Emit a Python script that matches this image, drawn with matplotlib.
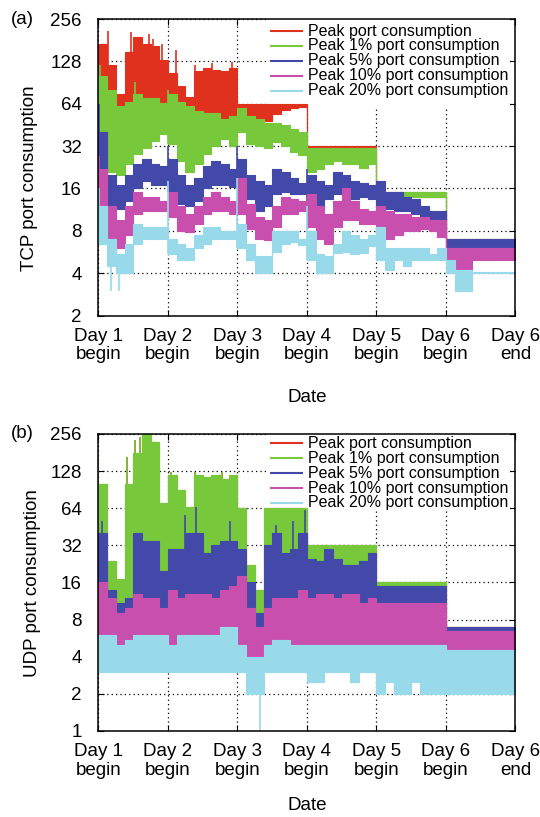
import numpy as np
import matplotlib
matplotlib.use("Agg")
import matplotlib.pyplot as plt
from matplotlib.patches import Rectangle

plt.rcParams['font.family'] = ['Liberation Sans', 'DejaVu Sans']


# -----------------------------------------------------------
# Datos (valores en bloques de 3 horas)
# -----------------------------------------------------------

BINS_PER_DAY = 8

day_labels = ["Day 1\nbegin", "Day 2\nbegin", "Day 3\nbegin", "Day 4\nbegin",
              "Day 5\nbegin", "Day 6\nbegin", "Day 6\nend"]

series_names = ["Peak port consumption", "Peak 1% port consumption",
                "Peak 5% port consumption", "Peak 10% port consumption",
                "Peak 20% port consumption"]

# --- TCP (a) ---
tcp_peak_hi = [170, 120, 75, 150, 190, 170, 165, 130,
               105, 85, 72, 110, 115, 112, 110, 115,
               64, 64, 64, 64, 64, 64, 64, 64,
               32, 32, 32, 32, 32, 32, 32, 32,
               15, 15, 15, 15, 15, 15, 15, 15,
               7, 7, 7, 7, 7, 7, 7, 7]
tcp_peak_lo = [70, 60, 56, 60, 63, 62, 62, 60,
               60, 57, 56, 55, 52, 52, 48, 50,
               52, 48, 48, 48, 54, 58, 60, 61,
               29, 29, 29, 29, 29, 29, 29, 29,
               14, 14, 14, 14, 14, 14, 14, 14,
               6.5, 6.5, 6.5, 6.5, 6.5, 6.5, 6.5, 6.5]
tcp_peak_spk_t = [0.02, 0.13, 0.47, 0.57, 0.72, 0.79, 0.91, 1.12, 1.39, 1.63, 1.92]
tcp_peak_spk_v = [166, 212, 207, 185, 201, 185, 170, 154, 120, 124, 127]

tcp_p1_hi = [100, 80, 62, 66, 75, 70, 70, 65,
             75, 66, 62, 57, 55, 55, 50, 52,
             60, 52, 50, 47, 47, 45, 42, 40,
             31, 31, 31, 31, 31, 31, 31, 31,
             15, 15, 15, 15, 15, 15, 15, 15,
             7, 7, 7, 7, 7, 7, 7, 7]
tcp_p1_lo = [35, 21, 20, 24, 28, 31, 35, 39,
             33, 25, 21, 24, 28, 32, 36, 32,
             40, 33, 32, 31, 34, 32, 29, 27.5,
             21, 22, 24, 25, 24, 24, 22.5, 24,
             14, 14, 14, 14, 14, 14, 14, 14,
             6.5, 6.5, 6.5, 6.5, 6.5, 6.5, 6.5, 6.5]
tcp_p1_spk_t = [0.02, 0.52, 1.0]
tcp_p1_spk_v = [120, 91, 80]

tcp_p5_hi = [40, 20, 17, 20, 24, 26, 24, 23,
             26, 20, 17, 19, 23, 25, 24, 22,
             26, 20, 18, 17, 22, 21, 19, 17.5,
             20, 18, 17, 21, 20, 18, 17.5, 17,
             18, 15, 15, 14, 13.5, 12, 11, 11,
             7, 7, 7, 7, 7, 7, 7, 7]
tcp_p5_lo = [17, 12, 11.5, 13, 16, 18, 17, 17,
             15, 12.5, 12, 13, 16, 17, 17, 16.5,
             16, 13.5, 11, 12, 14.5, 15, 14.5, 14.5,
             12, 11.5, 13.5, 14.5, 14, 13.5, 14, 13.5,
             11, 11.5, 11, 11, 10.5, 10, 9.5, 9,
             6, 5.2, 5.2, 6, 6, 6, 6, 6]
tcp_p5_spk_t = [0.01, 1.0, 2.0, 3.0]
tcp_p5_spk_v = [64, 32, 32, 22]

tcp_p10_hi = [22, 12, 9.5, 12, 15, 14, 14, 13,
              15, 12, 10.5, 12, 14, 15, 14, 13,
              19, 12.5, 10, 9.5, 12, 14, 13.5, 13,
              14.5, 12, 10.5, 13, 16, 13, 11.5, 11,
              12, 11, 10.5, 10.5, 10, 10, 9.5, 9.5,
              6, 6, 6, 6, 6, 6, 6, 6]
tcp_p10_lo = [12, 7, 6, 7.5, 10.5, 11, 11, 11,
              10, 8, 7.8, 9, 10.5, 11, 11, 10.5,
              10.5, 8.3, 7, 6.9, 8.5, 10.5, 10.5, 11,
              8.5, 7, 6.5, 8.5, 9.5, 9.5, 9, 9,
              8, 7, 7.5, 8, 8, 8.3, 8, 7.2,
              5, 4, 4, 5, 5, 5, 5, 5]
tcp_p10_spk_t = [0.01]
tcp_p10_spk_v = [27]

tcp_p20_hi = [12, 7, 5.5, 6.5, 9, 8.5, 8.5, 8.5,
              7, 6.5, 6, 7.5, 8.5, 8.5, 8, 8,
              9, 6.5, 5.3, 5.3, 8, 8, 8, 7,
              8, 5.5, 5.3, 6.5, 8, 7.5, 7, 7.5,
              8.5, 6, 6, 6, 6, 6, 5.5, 6,
              5, 4.2, 4.2, 4.1, 4.1, 4.1, 4.1, 4.1]
tcp_p20_lo = [6.5, 4.5, 4, 4, 6.5, 7, 7, 7,
              5.5, 5, 5, 6, 6.5, 7, 7, 7,
              6, 5, 4, 4, 5.7, 6.5, 6.7, 6.3,
              5, 4, 4, 5.6, 5.7, 5.5, 5.6, 6.2,
              5, 4.2, 5, 4.5, 5, 5, 5, 5,
              4, 3, 3, 4, 4, 4, 4, 4]
tcp_p20_spk_t = [0.01, 0.18, 0.30, 1.0, 2.0, 3.0]
tcp_p20_spk_v = [16, 3, 3, 18, 19, 12]

# --- UDP (b) ---
udp_p1_hi = [100, 24, 17, 100, 180, 256, 220, 70,
             120, 90, 65, 120, 115, 120, 110, 120,
             64, 22, 14, 64, 64, 64, 64, 64,
             32, 32, 32, 32, 32, 32, 32, 32,
             16, 16, 16, 16, 16, 16, 16, 16,
             7, 7, 7, 7, 7, 7, 7, 7]
udp_p1_lo = [8, 8, 8, 8, 8, 8, 8, 8,
             8, 8, 8, 8, 8, 8, 8, 8,
             8, 8, 7, 8, 8, 8, 8, 8,
             8, 8, 8, 8, 8, 8, 8, 8,
             8, 8, 8, 8, 8, 8, 8, 8,
             6, 6, 6, 6, 6, 6, 6, 6]
udp_p1_spk_t = [0.0, 0.12, 0.41, 0.52, 0.6, 1.05, 1.39, 1.77]
udp_p1_spk_v = [180, 75, 168, 228, 243, 125, 125, 125]

# el pico total queda casi siempre tapado por el 1%
udp_peak_hi = udp_p1_hi
udp_peak_lo = udp_p1_lo
udp_peak_spk_t = udp_p1_spk_t
udp_peak_spk_v = udp_p1_spk_v

udp_p5_hi = [40, 14, 11, 12, 40, 35, 35, 20,
             30, 30, 40, 40, 28, 32, 35, 35,
             30, 16, 9, 32, 40, 28, 30, 40,
             25, 24, 30, 25, 22, 22, 24, 28,
             15, 15, 15, 15, 15, 15, 15, 15,
             7, 7, 7, 7, 7, 7, 7, 7]
udp_p5_lo = [7, 7, 7, 7, 7, 7, 7, 7,
             7, 7, 7, 7, 7, 7, 7, 7,
             7, 7, 6, 7, 7, 7, 7, 7,
             7, 7, 7, 7, 7, 7, 7, 7,
             7, 7, 7, 7, 7, 7, 7, 7,
             5, 5, 5, 5, 5, 5, 5, 5]
udp_p5_spk_t = [0.05, 1.24, 1.4, 1.89, 2.55, 2.8, 2.97]
udp_p5_spk_v = [50, 56, 66, 50, 47, 50, 62]

udp_p10_hi = [16, 12, 9, 10, 13, 12, 12, 10,
              14, 12, 13, 13, 13, 12, 14, 15,
              18, 10, 7, 10, 12, 12, 12, 14,
              12, 13, 13, 12, 13, 13, 11, 12,
              11, 11, 11, 11, 11, 11, 11, 11,
              6.5, 6.5, 6.5, 6.5, 6.5, 6.5, 6.5, 6.5]
udp_p10_lo = [6, 6, 4.5, 5, 5, 6, 5.5, 6,
              5, 5.5, 5.5, 5.5, 5.5, 5.5, 5.5, 5.5,
              5, 3.7, 3.5, 4.3, 4.5, 5, 5, 5,
              5, 5, 5, 5, 5, 5, 5, 5,
              4.5, 4.5, 4.5, 4.5, 4.5, 4.5, 4.5, 4.5,
              3.5, 3.5, 3.5, 3.5, 3.5, 3.5, 3.5, 3.5]
udp_p10_spk_t = []
udp_p10_spk_v = []

udp_p20_hi = [6, 6, 5, 5.5, 6, 6, 6, 6,
              5, 6, 6, 6, 6, 6, 7, 7,
              5, 4, 4, 5, 5.5, 5.5, 5, 5,
              5, 5, 5, 5, 5, 5, 5, 5,
              5, 5, 5, 5, 5, 5, 5, 5,
              4.5, 4.5, 4.5, 4.5, 4.5, 4.5, 4.5, 4.5]
udp_p20_lo = [3, 3, 3, 3, 3, 3, 3, 3,
              3, 3, 3, 3, 3, 3, 3, 3,
              3, 2, 2, 3, 3, 3, 3, 3,
              2.5, 2.5, 3, 3, 3, 2.5, 3, 3,
              2, 2.5, 2, 2, 2.5, 2, 2, 2,
              2, 2, 2, 2, 2, 2, 2, 2]
udp_p20_spk_t = [2.33]
udp_p20_spk_v = [1]

colores = ["#e0301e", "#77c83a", "#4249a8", "#c94fae", "#98d9ea"]


# -----------------------------------------------------------
# Funciones de dibujo
# -----------------------------------------------------------

def banda(ax, lo, hi, spk_t, spk_v, color):
    t = np.arange(len(hi) + 1) / BINS_PER_DAY
    lo2 = np.append(lo, lo[-1])
    hi2 = np.append(hi, hi[-1])
    ax.fill_between(t, lo2, hi2, step="post", facecolor=color,
                    edgecolor=color, linewidth=0.8, zorder=1)
    # picos y caidas aisladas
    for ts, v in zip(spk_t, spk_v):
        k = min(int(ts * BINS_PER_DAY), len(lo) - 1)
        ax.vlines(ts, lo[k], v, color=color, linewidth=1.2, zorder=1)


def leyenda(ax, y0, dy, caja_y):
    # caja blanca detras de los datos (tapa la rejilla), como en gnuplot
    ax.add_patch(Rectangle((0.408, caja_y), 0.58, 1 - caja_y,
                           transform=ax.transAxes, facecolor="white",
                           edgecolor="none", zorder=0.8))
    filas = [y0 - i * dy for i in range(len(series_names))]
    for y, c in zip(filas, colores):
        ax.plot([0.411, 0.490], [y, y], transform=ax.transAxes, color=c,
                linewidth=1.5, zorder=3, solid_capstyle="butt")
    ax.text(0.503, np.mean(filas), "\n".join(series_names),
            transform=ax.transAxes, fontsize=11.5, linespacing=0.98,
            ha="left", va="center", zorder=3)


def panel(ax, series, ymin, ylabel):
    for s, c in zip(series, colores):
        banda(ax, *s, c)

    ax.set_yscale("log", base=2)
    ax.set_ylim(ymin, 256)
    yt = [2 ** i for i in range(int(np.log2(ymin)), 9)]
    ax.set_yticks(yt)
    ax.set_yticklabels([str(v) for v in yt])
    ax.minorticks_off()
    ax.set_xlim(0, 6)
    ax.set_xticks(range(7))
    ax.set_xticklabels(day_labels, linespacing=1.08)

    ax.set_axisbelow(True)
    ax.grid(True, color="black", linestyle=(0, (1, 2.5)), linewidth=0.9)
    ax.tick_params(direction="in", length=4, width=0.8, top=True, right=True,
                   labelsize=13.5)
    ax.tick_params(axis="y", pad=12)
    ax.tick_params(axis="x", pad=9)
    for s in ax.spines.values():
        s.set_linewidth(1.1)
        s.set_zorder(4)

    ax.set_xlabel("Date", fontsize=13.5, va="center")
    ax.set_ylabel(ylabel, fontsize=13.5, va="center")


fig = plt.figure(figsize=(5.4, 8.17), dpi=100)
ax1 = fig.add_axes([0.1824, 0.6138, 0.7722, 0.3629])
ax2 = fig.add_axes([0.1824, 0.1053, 0.7722, 0.3635])

panel(ax1, [(tcp_peak_lo, tcp_peak_hi, tcp_peak_spk_t, tcp_peak_spk_v),
            (tcp_p1_lo, tcp_p1_hi, tcp_p1_spk_t, tcp_p1_spk_v),
            (tcp_p5_lo, tcp_p5_hi, tcp_p5_spk_t, tcp_p5_spk_v),
            (tcp_p10_lo, tcp_p10_hi, tcp_p10_spk_t, tcp_p10_spk_v),
            (tcp_p20_lo, tcp_p20_hi, tcp_p20_spk_t, tcp_p20_spk_v)],
      2, "TCP port consumption")
leyenda(ax1, 0.9605, 0.0506, 0.703)
ax1.xaxis.set_label_coords(0.5, -0.275)
ax1.yaxis.set_label_coords(-0.166, 0.464)

panel(ax2, [(udp_peak_lo, udp_peak_hi, udp_peak_spk_t, udp_peak_spk_v),
            (udp_p1_lo, udp_p1_hi, udp_p1_spk_t, udp_p1_spk_v),
            (udp_p5_lo, udp_p5_hi, udp_p5_spk_t, udp_p5_spk_v),
            (udp_p10_lo, udp_p10_hi, udp_p10_spk_t, udp_p10_spk_v),
            (udp_p20_lo, udp_p20_hi, udp_p20_spk_t, udp_p20_spk_v)],
      1, "UDP port consumption")
leyenda(ax2, 0.9687, 0.0505, 0.741)
ax2.xaxis.set_label_coords(0.5, -0.2525)
ax2.yaxis.set_label_coords(-0.159, 0.497)

fig.text(22 / 540, 1 - 20 / 817, "(a)", fontsize=13.5, ha="center", va="center")
fig.text(22 / 540, 1 - 434 / 817, "(b)", fontsize=13.5, ha="center", va="center")

fig.savefig("out.png", dpi=100)
